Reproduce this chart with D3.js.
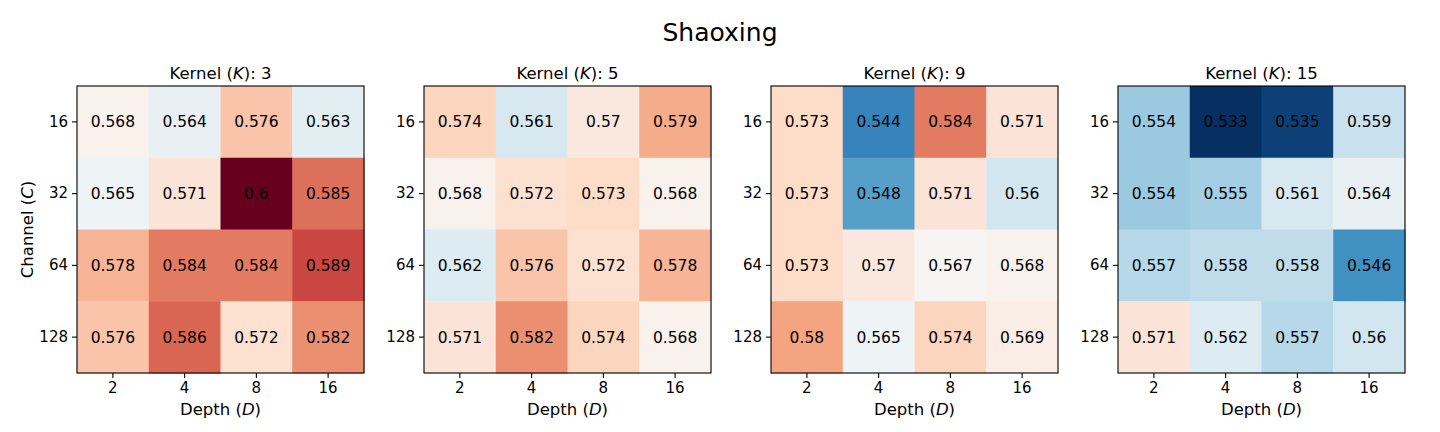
<!DOCTYPE html>
<html>
<head>
<meta charset="utf-8">
<script src="https://cdn.jsdelivr.net/npm/d3@7"></script>
<style>
  body { margin: 0; background: #fff; }
  text { font-family: "DejaVu Sans", sans-serif; fill: #000; }
</style>
</head>
<body>
<svg width="1440" height="432"></svg>
<script>
var depths = ['2', '4', '8', '16'],
    channels = ['16', '32', '64', '128'],
    kernels = ['3', '5', '9', '15'];

// rows = channel, cols = depth
var k3 = [[0.568, 0.564, 0.576, 0.563],
          [0.565, 0.571, 0.6, 0.585],
          [0.578, 0.584, 0.584, 0.589],
          [0.576, 0.586, 0.572, 0.582]];
var k5 = [[0.574, 0.561, 0.57, 0.579],
          [0.568, 0.572, 0.573, 0.568],
          [0.562, 0.576, 0.572, 0.578],
          [0.571, 0.582, 0.574, 0.568]];
var k9 = [[0.573, 0.544, 0.584, 0.571],
          [0.573, 0.548, 0.571, 0.56],
          [0.573, 0.57, 0.567, 0.568],
          [0.58, 0.565, 0.574, 0.569]];
var k15 = [[0.554, 0.533, 0.535, 0.559],
           [0.554, 0.555, 0.561, 0.564],
           [0.557, 0.558, 0.558, 0.546],
           [0.571, 0.562, 0.557, 0.56]];

var panels = [k3, k5, k9, k15];

var svg = d3.select('svg'),
    size = 287,
    top0 = 86,
    lefts = [77, 424, 771, 1118];

// matplotlib RdBu_r, shared across panels
var all = d3.merge(panels.map(function(p) { return d3.merge(p); })),
    vmin = d3.min(all),
    vmax = d3.max(all);
var rdbu = ['#053061', '#2166ac', '#4393c3', '#92c5de', '#d1e5f0', '#f7f7f7',
            '#fddbc7', '#f4a582', '#d6604d', '#b2182b', '#67001f'];
var color = d3.scaleLinear()
    .domain(d3.range(11).map(function(i) { return vmin + (vmax - vmin) * i / 10; }))
    .range(rdbu)
    .interpolate(d3.interpolateRgb);

svg.append('text')
    .attr('x', 720).attr('y', 41)
    .attr('text-anchor', 'middle')
    .style('font-size', '25px')
    .text('Shaoxing');

function italicLabel(sel, pre, it, post) {
    sel.append('tspan').text(pre);
    sel.append('tspan').style('font-style', 'italic').text(it);
    sel.append('tspan').text(post);
}

for (var p = 0; p < panels.length; p++) {
    var data = panels[p],
        g = svg.append('g').attr('transform', 'translate(' + lefts[p] + ',' + top0 + ')');

    var x = d3.scaleBand().domain(depths).range([0, size]),
        y = d3.scaleBand().domain(channels).range([0, size]);

    var cells = [];
    for (var r = 0; r < channels.length; r++) {
        for (var c = 0; c < depths.length; c++) {
            cells.push({ ch: channels[r], d: depths[c], v: data[r][c] });
        }
    }

    g.selectAll('rect.cell').data(cells).enter().append('rect')
        .attr('class', 'cell')
        .attr('x', function(d) { return x(d.d); })
        .attr('y', function(d) { return y(d.ch); })
        .attr('width', x.bandwidth() + 0.5)
        .attr('height', y.bandwidth() + 0.5)
        .attr('fill', function(d) { return color(d.v); });

    g.selectAll('text.val').data(cells).enter().append('text')
        .attr('class', 'val')
        .attr('x', function(d) { return x(d.d) + x.bandwidth() / 2; })
        .attr('y', function(d) { return y(d.ch) + y.bandwidth() / 2; })
        .attr('dy', '0.36em')
        .attr('text-anchor', 'middle')
        .style('font-size', '15.5px')
        .text(function(d) { return String(d.v); });

    g.append('rect')
        .attr('width', size).attr('height', size)
        .attr('fill', 'none').attr('stroke', '#000').attr('stroke-width', 1.1);

    var xa = g.append('g').attr('transform', 'translate(0,' + size + ')')
        .call(d3.axisBottom(x).tickSize(5).tickPadding(4));
    var ya = g.append('g')
        .call(d3.axisLeft(y).tickSize(5).tickPadding(4));
    [xa, ya].forEach(function(a) {
        a.select('.domain').remove();
        a.selectAll('line').attr('stroke', '#000').attr('stroke-width', 1.1);
        a.selectAll('text').style('font-size', '15px').style('font-family', '"DejaVu Sans", sans-serif').attr('fill', '#000');
    });

    italicLabel(g.append('text')
        .attr('x', size / 2).attr('y', -7)
        .attr('text-anchor', 'middle')
        .style('font-size', '16.5px'), 'Kernel (', 'K', '): ' + kernels[p]);

    italicLabel(g.append('text')
        .attr('x', size / 2).attr('y', size + 42)
        .attr('text-anchor', 'middle')
        .style('font-size', '16.5px'), 'Depth (', 'D', ')');

    if (p === 0) {
        italicLabel(g.append('text')
            .attr('transform', 'translate(-44,' + size / 2 + ') rotate(-90)')
            .attr('text-anchor', 'middle')
            .style('font-size', '16.5px'), 'Channel (', 'C', ')');
    }
}
</script>
</body>
</html>
